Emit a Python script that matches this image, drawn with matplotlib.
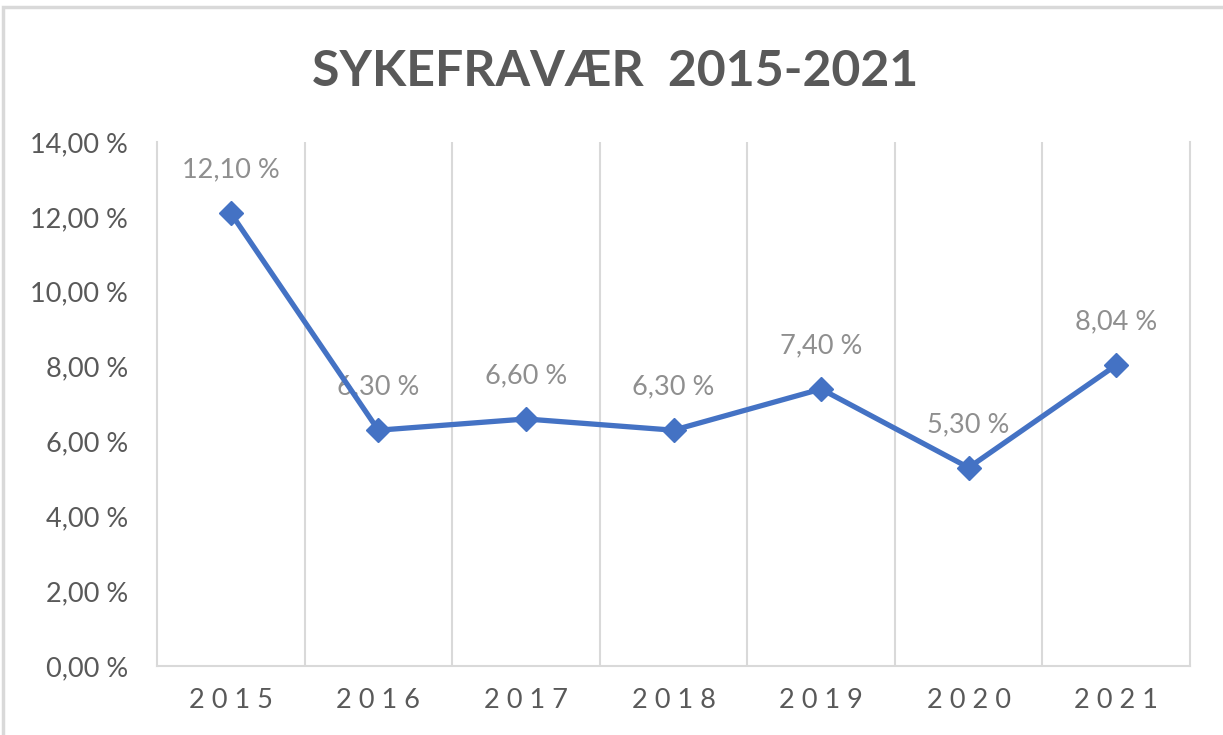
import matplotlib.pyplot as plt
from matplotlib.patches import Rectangle
from matplotlib.ticker import FuncFormatter, MultipleLocator

# data
years = ['2015', '2016', '2017', '2018', '2019', '2020', '2021']
sykefravaer = [12.10, 6.30, 6.60, 6.30, 7.40, 5.30, 8.04]

plt.rcParams['font.family'] = ['Lato', 'DejaVu Sans']

fig = plt.figure(figsize=(12.23, 7.35), dpi=100)
ax = fig.add_axes([157 / 1223, 69 / 735, 1033 / 1223, 524 / 735])

# ytre ramme (kuttet i høyre/nedre kant)
fig.patches.append(Rectangle((3 / 1223, -0.1), 1.2, 1.1 - 7 / 735,
                             transform=fig.transFigure, fill=False,
                             edgecolor='#d9d9d9', lw=2.5, zorder=0))

x = list(range(len(years)))
ax.plot(x, sykefravaer, color='#4472C4', lw=3.8, marker='D', ms=12,
        solid_joinstyle='round', zorder=3, clip_on=False)

for xi, v in zip(x, sykefravaer):
    txt = f'{v:.2f} %'.replace('.', ',')
    ax.annotate(txt, (xi, v), xytext=(0, 31), textcoords='offset points',
                ha='center', va='center', fontsize=19.5, color='#8f8f8f', zorder=2)

ax.set_xlim(-0.5, len(years) - 0.5)
ax.set_ylim(0, 14)
ax.yaxis.set_major_locator(MultipleLocator(2))
ax.yaxis.set_major_formatter(FuncFormatter(lambda v, p: f'{v:.2f} %'.replace('.', ',')))
ax.set_xticks(x)
ax.set_xticklabels([' '.join(y) for y in years])

# vertikale rutenettlinjer mellom kategoriene
for b in [i + 0.5 for i in range(len(years) - 1)]:
    ax.axvline(b, color='#d9d9d9', lw=1.5, zorder=1)

for s in ['left', 'right', 'bottom']:
    ax.spines[s].set_color('#d9d9d9')
    ax.spines[s].set_linewidth(1.5)
ax.spines['top'].set_visible(False)

ax.tick_params(axis='both', length=0, labelsize=19.5, labelcolor='#595959')
ax.tick_params(axis='y', pad=21)
ax.tick_params(axis='x', pad=16)

fig.text(615 / 1223, 1 - 72 / 735, 'SYKEFRAVÆR  2015-2021', ha='center', va='center',
         fontsize=36, fontweight='bold', color='#595959')

fig.savefig('out.png', dpi=100)
